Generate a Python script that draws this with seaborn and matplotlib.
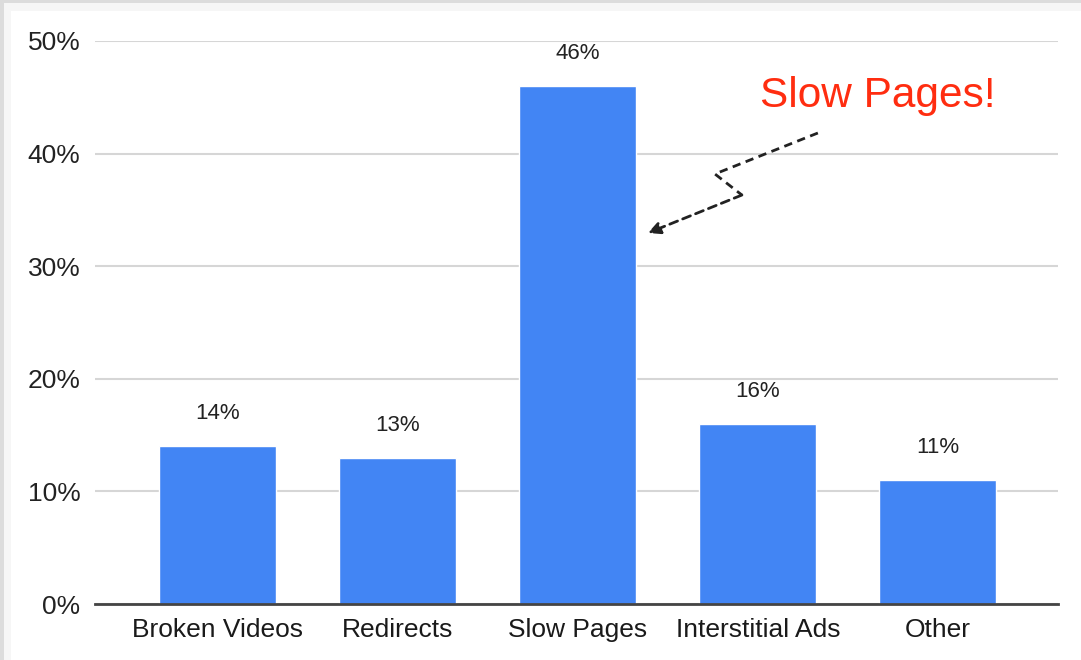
import matplotlib
matplotlib.use('Agg')
import matplotlib.pyplot as plt
import seaborn as sns
import pandas as pd
from matplotlib.patches import Rectangle

# data
categories = ['Broken Videos', 'Redirects', 'Slow Pages', 'Interstitial Ads', 'Other']
values = [14, 13, 46, 16, 11]
value_labels = ['14%', '13%', '46%', '16%', '11%']
y_ticks = [0, 10, 20, 30, 40, 50]
y_tick_labels = ['0%', '10%', '20%', '30%', '40%', '50%']

df = pd.DataFrame({'reason': categories, 'share': values})

sns.set_style('white')
plt.rcParams['font.family'] = ['Liberation Sans', 'DejaVu Sans']

fig = plt.figure(figsize=(10.81, 6.6), dpi=100)
fig.patch.set_facecolor('#dcdcdc')

# card with a soft shadow on the left / top edge
for i, g in enumerate(['#e2e2e2', '#e9e9e9', '#f0f0f0', '#f6f6f6']):
    off = (8 - 2 * i)
    fig.patches.append(Rectangle((off / 1081 + 0.002, 0), 1, 1 - off / 660 - 0.002,
                                 transform=fig.transFigure, facecolor=g,
                                 edgecolor='none', zorder=-2))
fig.patches.append(Rectangle((11 / 1081, 0), 1, 1 - 11 / 660,
                             transform=fig.transFigure, facecolor='white',
                             edgecolor='none', zorder=-1))

ax = fig.add_axes([95 / 1081, 1 - 604 / 660, (1058 - 95) / 1081, (604 - 41) / 660])
ax.set_facecolor('none')

sns.barplot(data=df, x='reason', y='share', color='#4285F4', saturation=1,
            width=0.65, ax=ax, zorder=3)

ax.set_xlim(-0.683, 4.667)
ax.set_ylim(0, 50)
ax.set_yticks(y_ticks)
ax.set_yticklabels(y_tick_labels)
ax.set_xlabel('')
ax.set_ylabel('')

ax.yaxis.grid(True, color='#d6d6d6', linewidth=1.5, zorder=0)
ax.set_axisbelow(True)
for s in ['top', 'right', 'left']:
    ax.spines[s].set_visible(False)
ax.spines['bottom'].set_color('#444444')
ax.spines['bottom'].set_linewidth(2)
ax.spines['bottom'].set_zorder(4)

ax.tick_params(axis='y', length=0, pad=10.5, labelsize=19, labelcolor='#222222')
ax.tick_params(axis='x', length=0, pad=10, labelsize=19, labelcolor='#1a1a1a')

# value labels above the bars
for i, (v, lab) in enumerate(zip(values, value_labels)):
    ax.annotate(lab, (i, v), xytext=(0, 19.5), textcoords='offset points',
                ha='center', va='baseline', fontsize=16, color='#222222')

# callout
ax.text(3.667, 44.14, 'Slow Pages!', color='#ff2d10', fontsize=30.5,
        ha='center', va='baseline')
ax.plot([3.333, 2.761, 2.911], [41.83, 38.19, 36.32], color='#222222',
        linewidth=2, linestyle=(0, (3, 2)), zorder=5)
ax.annotate('', xy=(2.389, 32.95), xytext=(2.911, 36.32),
            arrowprops=dict(arrowstyle='-|>', color='#222222', lw=2,
                            linestyle=(0, (3, 2)), mutation_scale=18,
                            shrinkA=0, shrinkB=0), zorder=5)

fig.savefig('out.png', dpi=100)
